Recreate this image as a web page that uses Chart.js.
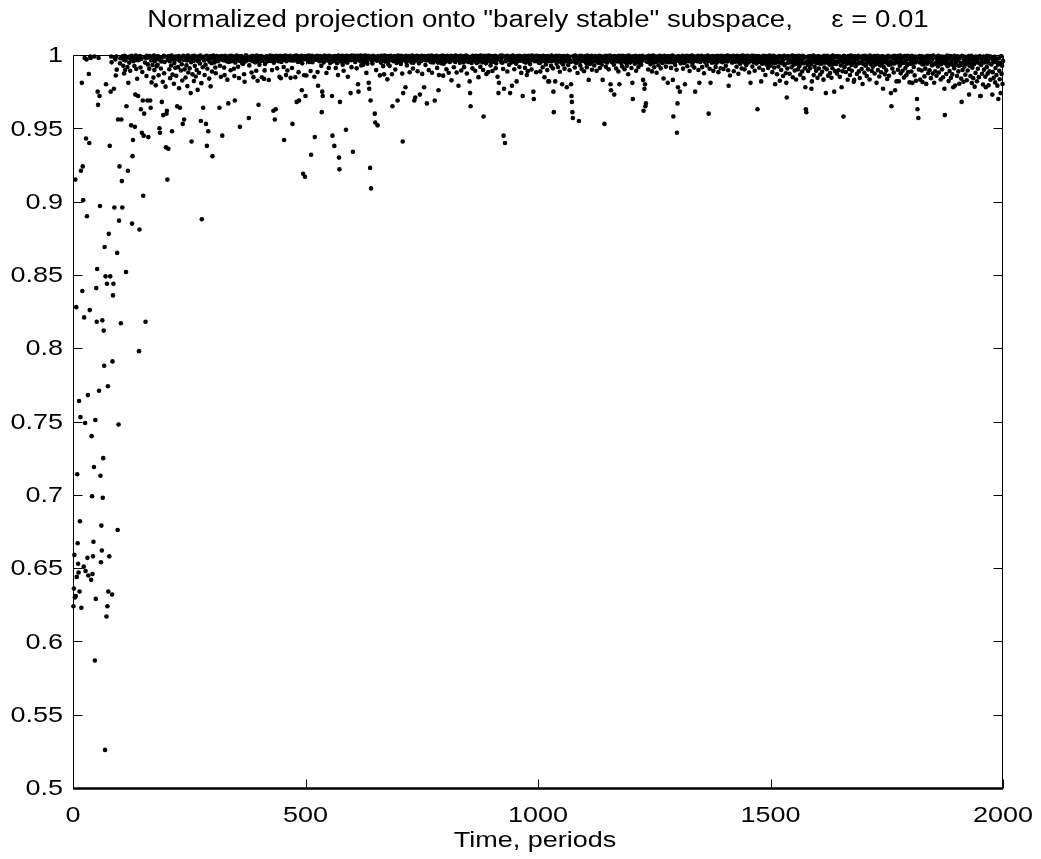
<!DOCTYPE html>
<html>
<head>
<meta charset="utf-8">
<script src="https://cdn.jsdelivr.net/npm/chart.js@4/dist/chart.umd.min.js"></script>
<style>
  html, body { margin: 0; padding: 0; background: #fff; }
  #wrap { width: 1041px; height: 859px; position: relative; }
</style>
</head>
<body>
<div id="wrap"><canvas id="c"></canvas></div>
<script>
const titleText = 'Normalized projection onto "barely stable" subspace,     \u03b5 = 0.01';
const xAxisTitle = 'Time, periods';

const xTicks = [0, 500, 1000, 1500, 2000];
const xTickLabels = ['0', '500', '1000', '1500', '2000'];
const yTicks = [0.5, 0.55, 0.6, 0.65, 0.7, 0.75, 0.8, 0.85, 0.9, 0.95, 1];
const yTickLabels = ['0.5', '0.55', '0.6', '0.65', '0.7', '0.75', '0.8', '0.85', '0.9', '0.95', '1'];

const firstPeriod = 1;
// normalized projection, one value per period
const projection = [
  .624,.636,.659,.630,.915,.631,.828,.644,.714,.667,.653,.647,.764,.634,.682,.753,.921,.623,.981,.839, // 1-20
  .924,.901,.651,.821,.998,.749,.648,.943,.997,.890,.657,.768,.645,.987,.940,.826,.999,.998,.642,.740, // 21-40
  .699,.646,.658,.668,.719,.999,.587,.751,.629,.841,.818,.854,.975,.966,.998,.771,.972,.897,.713,.654, // 41-60
  .679,.662,.819,.698,.725,.812,.788,.869,.526,.849,.980,.617,.844,.624,.774,.634,.878,.658,.938,.849, // 61-80
  .975,.999,.995,.632,.791,.836,.844,.977,.896,.998,.997,.986,.999,.990,.865,.676,.956,.748,.887,.924, // 81-100
  .9943,.9978,.817,.956,.914,.896,.9991,.9926,.9968,.9874,.9995,.9897,.9962,.852,.965,.9986,.9918,.921,.981,.9983, // 101-120
  .9947,.9989,.9893,.9971,.952,.9994,.885,.931,.942,.9957,.9982,.9925,.951,.973,.9997,.9904,.9966,.9838,.9988,.972, // 121-140
  .9964,.798,.881,.9992,.9915,.963,.9973,.947,.9884,.969,.904,.945,.960,.9986,.9948,.818,.9979,.9857,.9995,.969, // 141-160
  .9936,.944,.9984,.9907,.9993,.969,.964,.9962,.9813,.9988,.9931,.9974,.9846,.9996,.9897,.9958,.9981,.9793,.9990,.9924, // 161-180
  .9977,.9934,.9991,.9862,.9969,.950,.947,.9985,.9908,.9956,.968,.9983,.9817,.959,.9994,.9876,.9952,.9989,.9784,.937, // 181-200
  .960,.962,.915,.9966,.936,.9992,.9903,.9957,.9842,.9979,.9928,.9996,.948,.9866,.9973,.9987,.9804,.9946,.9982,.9913, // 201-220
  .9989,.9858,.9972,.965,.9984,.9917,.9993,.9773,.9961,.964,.9986,.9894,.9978,.9937,.9826,.953,.9995,.9968,.956,.9902, // 221-240
  .9981,.9847,.9990,.9929,.9963,.9788,.9996,.9881,.9974,.9983,.9909,.9988,.974,.9951,.941,.9976,.9868,.9992,.9959,.9822, // 241-260
  .9994,.9926,.9967,.9853,.9987,.9898,.9980,.9762,.9958,.9991,.9879,.9971,.9942,.9997,.955,.9808,.888,.9979,.9916,.964, // 261-280
  .9988,.9962,.9864,.9983,.9933,.953,.9995,.938,.9906,.9969,.948,.9990,.9839,.9954,.9978,.9786,.9993,.9944,.9887,.931, // 281-300
  .9984,.9996,.9973,.9949,.9989,.9915,.9876,.9966,.9993,.9981,.9957,.9990,.9961,.9987,.964,.9927,.9976,.9851,.9992,.9972, // 301-320
  .945,.9990,.9964,.9982,.9914,.9863,.9995,.9977,.9973,.9958,.9986,.9832,.9979,.967,.9953,.9993,.9969,.9988,.9896,.9994, // 321-340
  .9957,.9981,.9992,.9962,.9983,.9906,.9857,.969,.9948,.9977,.9991,.9996,.9974,.9970,.9919,.9990,.9843,.9960,.951,.9981, // 341-360
  .9993,.9985,.9969,.9942,.9988,.9941,.9982,.9869,.9818,.9956,.9978,.9998,.9991,.9962,.9975,.9974,.9986,.957,.9929,.9980, // 361-380
  .9973,.9989,.9963,.9881,.9977,.9994,.9958,.9849,.9971,.9987,.9952,.9950,.9984,.9893,.9996,.9958,.9824,.9979,.966,.9990, // 381-400
  .9934,.9968,.9959,.9992,.9976,.9848,.9961,.9988,.9971,.9972,.9837,.9895,.9939,.9981,.9987,.9991,.9955,.9978,.9966,.9986, // 401-420
  .9829,.9983,.9962,.9996,.9959,.9968,.9989,.9897,.9975,.9992,.962,.9947,.9978,.956,.9971,.963,.9994,.9963,.9909,.9980, // 421-440
  .9990,.9958,.9970,.9852,.9995,.9979,.9841,.9952,.9987,.9986,.9967,.9993,.9918,.942,.9982,.9968,.9996,.9863,.9957,.9989, // 441-460
  .9894,.9977,.9966,.9991,.9981,.9973,.9995,.9844,.9962,.9984,.9911,.953,.9988,.9963,.9969,.9993,.9976,.9848,.9981,.9996, // 461-480
  .968,.9959,.9992,.9952,.9883,.969,.9978,.9987,.9966,.9964,.9994,.976,.9943,.9983,.919,.9990,.9862,.9971,.917,.972, // 481-500
  .9993,.986,.9974,.9988,.9962,.9981,.9996,.9953,.9962,.9990,.9891,.932,.9979,.9994,.9951,.9983,.9986,.9968,.9852,.944, // 501-520
  .9982,.9991,.9968,.9973,.9995,.9884,.979,.9977,.9989,.9958,.9963,.9993,.9966,.9926,.961,.975,.972,.9987,.9949,.9984, // 521-540
  .9996,.9978,.9970,.9989,.9877,.9963,.9980,.9992,.9969,.9912,.9995,.9967,.9946,.9988,.9953,.9983,.972,.945,.9991,.9957, // 541-560
  .9962,.938,.9985,.9993,.9911,.9972,.9987,.9944,.9976,.9863,.9996,.930,.922,.968,.9961,.9990,.9955,.9969,.9994,.9934, // 561-580
  .9979,.9893,.9992,.9958,.9986,.9956,.949,.9983,.9995,.9947,.9852,.9974,.9989,.9971,.9977,.9993,.974,.9965,.9917,.9997, // 581-600
  .9968,.934,.9990,.9966,.9981,.9995,.9953,.9962,.9987,.9909,.9973,.9994,.980,.975,.9984,.9991,.9976,.9957,.9996,.9929, // 601-620
  .9978,.9993,.9952,.9934,.9988,.9971,.9954,.9996,.9963,.9982,.9878,.9990,.9941,.9967,.9994,.981,.977,.9980,.923,.969, // 621-640
  .909,.9991,.9959,.9942,.9983,.9995,.9971,.9969,.960,.954,.9988,.9897,.9979,.9961,.952,.9993,.9964,.9974,.9987,.9861, // 641-660
  .9981,.9948,.9994,.9969,.9966,.9989,.9924,.9977,.9868,.9996,.9955,.9990,.9962,.9972,.9984,.9834,.9992,.9937,.9960,.9987, // 661-680
  .9926,.9982,.9995,.9973,.9970,.9869,.965,.9988,.9957,.9979,.9967,.9993,.9901,.9968,.9991,.9946,.9983,.969,.9996,.9961, // 681-700
  .9973,.9989,.9952,.9980,.9939,.9994,.9961,.9873,.941,.974,.9990,.9968,.9977,.9965,.978,.9995,.9950,.9928,.9984,.9991, // 701-720
  .9969,.9971,.9993,.9882,.9979,.9958,.9987,.9949,.9974,.9996,.9908,.9947,.9982,.969,.9990,.971,.9963,.9976,.9994,.9978, // 721-740
  .9889,.9992,.9969,.9943,.9988,.973,.9983,.9961,.9959,.9995,.9871,.9972,.9989,.9968,.978,.9976,.9993,.9932,.9962,.9986, // 741-760
  .967,.9981,.9967,.9994,.9897,.9970,.9988,.9958,.9977,.9951,.9996,.9879,.9966,.9990,.9949,.9960,.9984,.969,.9992,.9971, // 761-780
  .9967,.9995,.9912,.9983,.9948,.976,.9863,.9989,.9969,.9973,.9993,.9944,.9978,.9962,.9997,.9859,.9940,.9987,.9971,.9955, // 781-800
  .9991,.9956,.9903,.9980,.9994,.9967,.9969,.9879,.9988,.9953,.9982,.9958,.9995,.9827,.9972,.9990,.9972,.9976,.9916,.9993, // 801-820
  .9963,.9953,.9996,.9979,.9881,.9968,.9989,.9968,.979,.9984,.9992,.9947,.9958,.9995,.9894,.9974,.9981,.9962,.9988,.9949, // 821-840
  .9917,.9993,.9970,.9962,.9983,.9996,.9874,.9961,.9990,.9953,.9967,.9978,.982,.974,.965,.9987,.9945,.9973,.9909,.9994, // 841-860
  .9982,.9961,.9991,.9957,.9893,.9977,.9995,.9946,.9970,.9988,.9952,.9849,.9980,.9993,.9966,.9919,.9996,.9963,.9979,.9950, // 861-880
  .9989,.9898,.958,.9968,.9994,.9969,.9981,.9943,.987,.9992,.9959,.9984,.9883,.9996,.9960,.9971,.9987,.9929,.9950,.9976, // 881-900
  .9993,.9891,.9974,.9990,.9955,.9962,.9983,.9995,.9910,.9943,.9988,.9969,.9852,.9978,.974,.981,.9991,.9969,.9966,.9996, // 901-920
  .9952,.9980,.9947,.9994,.9904,.945,.977,.9989,.940,.9958,.9983,.9960,.9995,.9887,.9970,.9992,.9966,.9933,.9979,.974, // 921-940
  .9990,.9961,.9949,.979,.9982,.9996,.9968,.9972,.9903,.9987,.9951,.9977,.9941,.982,.9993,.9957,.9968,.9962,.9995,.9918, // 941-960
  .9984,.9992,.9961,.9878,.9973,.9988,.972,.9960,.9979,.9954,.9995,.9912,.9967,.9948,.9991,.9863,.9981,.9890,.9963,.9994, // 961-980
  .9958,.9989,.9938,.9971,.9983,.9901,.9996,.9967,.9969,.975,.970,.9992,.9958,.9980,.9962,.9882,.9994,.9957,.9974,.9990, // 981-1000
  .9979,.9947,.9993,.9946,.9888,.9972,.9988,.9957,.9959,.9916,.9995,.9981,.9960,.9848,.9968,.9991,.9935,.9963,.9977,.9897, // 1001-1020
  .9992,.982,.9957,.982,.9987,.9959,.9970,.9926,.9996,.9958,.9983,.9909,.975,.961,.9990,.9964,.982,.9966,.9994,.9941, // 1021-1040
  .9961,.9988,.9918,.9981,.9959,.9995,.9886,.9973,.9954,.9991,.9947,.980,.9978,.9936,.9993,.9956,.9907,.9969,.9989,.9958, // 1041-1060
  .9982,.978,.9994,.9960,.9931,.9968,.9990,.9896,.9963,.9953,.980,.972,.968,.961,.957,.9992,.9956,.9979,.9915,.9996, // 1061-1080
  .9959,.9946,.9989,.9971,.9877,.9984,.9961,.955,.9993,.9952,.9928,.9966,.9995,.9905,.9977,.9959,.9988,.9962,.9889,.9974, // 1081-1100
  .9991,.9952,.9980,.9944,.9917,.9996,.9958,.9967,.983,.9983,.9990,.9939,.9969,.9949,.9994,.9899,.9978,.9961,.9960,.9987, // 1101-1120
  .9929,.9972,.9993,.9964,.9981,.9892,.9957,.9989,.9947,.9967,.9949,.9995,.9911,.9976,.9958,.9991,.9934,.9963,.983,.9982, // 1121-1140
  .9988,.9960,.953,.9970,.9994,.9919,.9951,.9983,.9949,.9992,.9960,.9902,.9979,.9965,.9996,.980,.976,.9966,.9953,.9990, // 1141-1160
  .9948,.9981,.9933,.973,.9993,.9962,.9971,.9908,.9989,.9956,.9980,.9961,.9887,.9995,.980,.9968,.9952,.9991,.9946,.9977, // 1161-1180
  .9922,.9994,.9963,.9969,.9987,.9903,.9959,.9951,.9984,.9992,.9926,.9950,.9974,.9869,.9996,.9958,.9978,.9948,.9962,.9989, // 1181-1200
  .9911,.9967,.981,.970,.9991,.9956,.9982,.9940,.9957,.9995,.9893,.9973,.9958,.9988,.9949,.9918,.9976,.9993,.9947,.9964, // 1201-1220
  .9990,.9934,.9970,.9961,.9995,.983,.962,.9980,.977,.980,.965,.967,.9958,.9989,.9953,.9972,.9901,.9994,.9959,.9983, // 1221-1240
  .9963,.9937,.9992,.9968,.9888,.9979,.9961,.9996,.9947,.9916,.9984,.9990,.9954,.9955,.9879,.9988,.9957,.9971,.9930,.9993, // 1241-1260
  .9981,.9961,.9994,.9909,.9966,.9953,.9989,.9946,.9977,.984,.9961,.9995,.9957,.9973,.9921,.9991,.9953,.9982,.981,.9956, // 1261-1280
  .9993,.9951,.9969,.9962,.9987,.9912,.9980,.9951,.9996,.983,.958,.9972,.9952,.9990,.9932,.9959,.9983,.9899,.947,.967, // 1281-1300
  .978,.9992,.9959,.9968,.975,.9988,.9943,.9960,.9978,.9954,.9995,.9907,.9971,.9946,.9990,.980,.9982,.9956,.9957,.9994, // 1301-1320
  .9923,.9970,.9993,.9958,.9984,.9891,.9962,.9989,.9955,.9967,.9996,.9928,.9949,.9979,.9991,.9914,.9962,.975,.9974,.9988, // 1321-1340
  .9959,.9983,.9957,.9994,.9898,.9969,.981,.9990,.9952,.9958,.9980,.9995,.9917,.9961,.9961,.9987,.9876,.9972,.9977,.9949, // 1341-1360
  .9991,.9953,.9929,.9981,.9996,.9957,.960,.9973,.9906,.9989,.981,.9959,.9982,.9947,.9993,.9960,.9892,.9966,.9988,.9950, // 1361-1380
  .9979,.9918,.9992,.9947,.9971,.9954,.9995,.9883,.9962,.9984,.9959,.9990,.9910,.9967,.9994,.9953,.9951,.9981,.9904,.9988, // 1381-1400
  .9958,.9962,.9993,.9927,.9968,.9983,.9956,.9996,.9896,.979,.9963,.9989,.986,.9974,.9962,.9991,.9949,.9978,.9950,.9994, // 1401-1420
  .9889,.9972,.9990,.9954,.9957,.9982,.9920,.9995,.9957,.9969,.9872,.9988,.9948,.9980,.9941,.9993,.9961,.9908,.9973,.9996, // 1421-1440
  .9956,.9978,.9992,.9902,.9960,.9943,.9987,.9931,.9971,.9994,.9955,.9983,.9949,.9881,.9990,.9967,.981,.9964,.9995,.9959, // 1441-1460
  .9921,.9981,.9994,.9950,.9972,.9893,.9989,.9954,.9977,.9942,.9993,.963,.9962,.9956,.9991,.9913,.9968,.9984,.9951,.982, // 1461-1480
  .9988,.9941,.9966,.9898,.9995,.9958,.9983,.9956,.9864,.9992,.9936,.9970,.9990,.9963,.9911,.9979,.9952,.9996,.9927,.9968, // 1481-1500
  .9991,.9938,.9960,.9883,.9982,.9955,.9994,.9914,.9947,.980,.9969,.9948,.9988,.9869,.9957,.9980,.9922,.9956,.9993,.9824, // 1501-1520
  .9949,.9984,.9898,.9990,.9943,.9963,.9857,.9971,.9995,.9931,.9939,.9978,.9876,.981,.971,.9908,.9992,.9947,.9958,.9981, // 1521-1540
  .9872,.9989,.9951,.9973,.9916,.9951,.9996,.9848,.9962,.9933,.9979,.9894,.9992,.9940,.9833,.9967,.9941,.9985,.9902,.9994, // 1541-1560
  .9953,.9924,.9977,.9866,.9960,.9991,.9943,.9887,.9970,.9995,.9842,.9944,.9983,.9909,.978,.963,.961,.9956,.9988,.9931, // 1561-1580
  .9891,.9974,.9948,.9993,.9909,.9961,.9937,.977,.982,.9980,.9957,.9996,.9863,.9968,.9919,.9950,.9990,.9892,.9979,.9945, // 1581-1600
  .9844,.9959,.9992,.9908,.9942,.9972,.9867,.9988,.9941,.9965,.9886,.9983,.9950,.9832,.9995,.9915,.9948,.9969,.974,.9981, // 1601-1620
  .9903,.9994,.9947,.9859,.9963,.9978,.9934,.9877,.9989,.9943,.9845,.9971,.9910,.9996,.9939,.9957,.975,.9984,.9890,.9991, // 1621-1640
  .9939,.9952,.9873,.9982,.9993,.9896,.9954,.9967,.9851,.9990,.9928,.9961,.978,.9979,.9889,.9948,.958,.9995,.9917,.9970, // 1641-1660
  .9989,.9884,.9958,.9941,.9983,.9831,.9945,.9992,.9905,.9968,.9864,.9947,.9996,.9932,.9893,.9977,.9949,.9990,.9818,.983, // 1661-1680
  .9962,.9991,.9923,.9937,.9980,.9871,.9973,.9942,.9995,.9888,.9949,.9843,.9984,.9946,.9988,.9904,.9957,.9802,.9993,.9938, // 1681-1700
  .9970,.9879,.9994,.9935,.9927,.9982,.9856,.9960,.9990,.9902,.9952,.9966,.9833,.9996,.9938,.9951,.9979,.9891,.9987,.9920, // 1701-1720
  .9964,.9947,.9992,.9874,.9971,.9936,.9981,.981,.9953,.9995,.9897,.9944,.9975,.9853,.9989,.9929,.9958,.9882,.9984,.9941, // 1721-1740
  .9993,.977,.9961,.9916,.9978,.9868,.9950,.9988,.9895,.9969,.9837,.9946,.9995,.9933,.9858,.9983,.9936,.9954,.974,.965, // 1741-1760
  .9990,.9908,.9942,.9974,.9881,.9994,.9943,.976,.9963,.9980,.982,.9951,.9992,.9899,.9950,.9821,.9977,.9927,.9996,.9875, // 1761-1780
  .9968,.9943,.9989,.9893,.9947,.9982,.9846,.9948,.9993,.9911,.9959,.9862,.9979,.9931,.9995,.9883,.9939,.9972,.9813,.9991, // 1781-1800
  .9940,.9962,.9887,.9994,.981,.9943,.9976,.9918,.9970,.9861,.9990,.9949,.9824,.9958,.970,.963,.9981,.957,.9901,.9993, // 1801-1820
  .9949,.9832,.9967,.9992,.9894,.9938,.9816,.9983,.9935,.9961,.9854,.9989,.9907,.9948,.9803,.9980,.9940,.9995,.9876,.9957, // 1821-1840
  .9978,.9896,.9953,.9991,.9842,.9960,.9928,.9972,.9873,.9996,.9937,.9811,.9984,.9889,.9946,.9988,.9859,.9940,.9969,.9922, // 1841-1860
  .9994,.9880,.9959,.9941,.9982,.9833,.9937,.9990,.9902,.9973,.9848,.9952,.9987,.977,.959,.9942,.9979,.9870,.9963,.9996, // 1861-1880
  .9924,.9941,.9822,.9977,.9891,.9993,.9938,.9844,.9956,.9989,.9868,.9932,.978,.9971,.9909,.9995,.9792,.9949,.9933,.9983, // 1881-1900
  .9857,.9962,.9991,.9888,.9926,.9804,.9980,.9930,.9947,.9839,.968,.9994,.9898,.9943,.9818,.9966,.9921,.9988,.9866,.9958, // 1901-1920
  .9941,.9828,.9984,.9894,.9953,.9992,.973,.9926,.9970,.9857,.9939,.9995,.9809,.9913,.9960,.9842,.9978,.9938,.9784,.9973, // 1921-1940
  .9878,.9990,.9951,.9821,.9957,.9906,.9981,.9849,.9944,.9993,.972,.972,.9932,.9968,.9872,.9951,.9798,.9989,.9900,.9949, // 1941-1960
  .9982,.9852,.978,.9961,.9917,.9995,.9873,.9947,.9793,.9974,.9889,.9991,.9831,.9940,.9936,.9979,.973,.9883,.9965,.9844, // 1961-1980
  .9952,.9988,.9813,.9911,.9970,.9864,.9952,.9791,.9934,.970,.9977,.9892,.9835,.9945,.974,.9993,.9871,.9927,.9802,.9959  // 1981-2000
];

const points = projection.map((v, i) => ({ x: firstPeriod + i, y: v }));

const FONT = '22.5px "Liberation Sans", Arial, Helvetica, sans-serif';
const TITLE_FONT = '23px "Liberation Sans", Arial, Helvetica, sans-serif';
const TEXT_STRETCH = 1.2;
const TICK_LEN = 9;

function stretchedText(ctx, text, x, y, align, baseline) {
  ctx.save();
  ctx.translate(x, y);
  ctx.scale(TEXT_STRETCH, 1);
  ctx.textAlign = align;
  ctx.textBaseline = baseline;
  ctx.fillText(text, 0, 0);
  ctx.restore();
}

// box, inward ticks on all four sides, labels and titles
const axesFrame = {
  id: 'axesFrame',
  beforeDatasetsDraw(chart) {
    const { ctx, chartArea: a, scales: { x, y } } = chart;
    const L = Math.round(a.left) + 0.5, R = Math.round(a.right) - 0.5;
    const T = Math.round(a.top) + 0.5, B = Math.round(a.bottom) + 0.5;
    ctx.save();
    ctx.strokeStyle = '#000';
    ctx.lineWidth = 1;
    ctx.beginPath();
    ctx.moveTo(L, B); ctx.lineTo(L, T); ctx.lineTo(R, T); ctx.lineTo(R, B);
    yTicks.forEach(v => {
      const py = Math.round(y.getPixelForValue(v)) + 0.5;
      ctx.moveTo(L, py); ctx.lineTo(L + TICK_LEN, py);
      ctx.moveTo(R, py); ctx.lineTo(R - TICK_LEN, py);
    });
    xTicks.forEach(v => {
      const px = Math.round(x.getPixelForValue(v)) + 0.5;
      ctx.moveTo(px, B); ctx.lineTo(px, B - TICK_LEN);
      ctx.moveTo(px, T); ctx.lineTo(px, T + TICK_LEN);
    });
    ctx.stroke();
    ctx.lineWidth = 2.5;
    ctx.beginPath();
    ctx.moveTo(L - 0.5, B); ctx.lineTo(R + 0.5, B);
    ctx.stroke();
    ctx.restore();
  },
  afterDraw(chart) {
    const { ctx, chartArea: a, scales: { x, y } } = chart;
    ctx.save();
    ctx.fillStyle = '#000';
    ctx.font = FONT;
    yTicks.forEach((v, i) => {
      stretchedText(ctx, yTickLabels[i], a.left - 10, y.getPixelForValue(v) + 1, 'right', 'middle');
    });
    xTicks.forEach((v, i) => {
      stretchedText(ctx, xTickLabels[i], x.getPixelForValue(v), a.bottom + 33.5, 'center', 'alphabetic');
    });
    const cx = (a.left + a.right) / 2;
    stretchedText(ctx, xAxisTitle, cx - 3, a.bottom + 58.5, 'center', 'alphabetic');
    ctx.font = TITLE_FONT;
    stretchedText(ctx, titleText, cx, 27, 'center', 'alphabetic');
    ctx.restore();
  }
};

new Chart(document.getElementById('c'), {
  type: 'scatter',
  data: {
    datasets: [{
      data: points,
      pointRadius: 2.3,
      pointHoverRadius: 2.3,
      pointBackgroundColor: '#000',
      pointBorderWidth: 0,
      borderWidth: 0,
      clip: false
    }]
  },
  options: {
    responsive: true,
    maintainAspectRatio: false,
    animation: false,
    events: [],
    layout: { padding: { top: 55, right: 38, bottom: 0, left: 0 } },
    plugins: {
      legend: { display: false },
      tooltip: { enabled: false },
      title: { display: false }
    },
    scales: {
      x: {
        type: 'linear', min: 0, max: 2000,
        grid: { display: false }, border: { display: false },
        ticks: { display: false },
        afterFit(s) { s.height = 71; }
      },
      y: {
        type: 'linear', min: 0.5, max: 1,
        grid: { display: false }, border: { display: false },
        ticks: { display: false },
        afterFit(s) { s.width = 73; }
      }
    }
  },
  plugins: [axesFrame]
});
</script>
</body>
</html>
